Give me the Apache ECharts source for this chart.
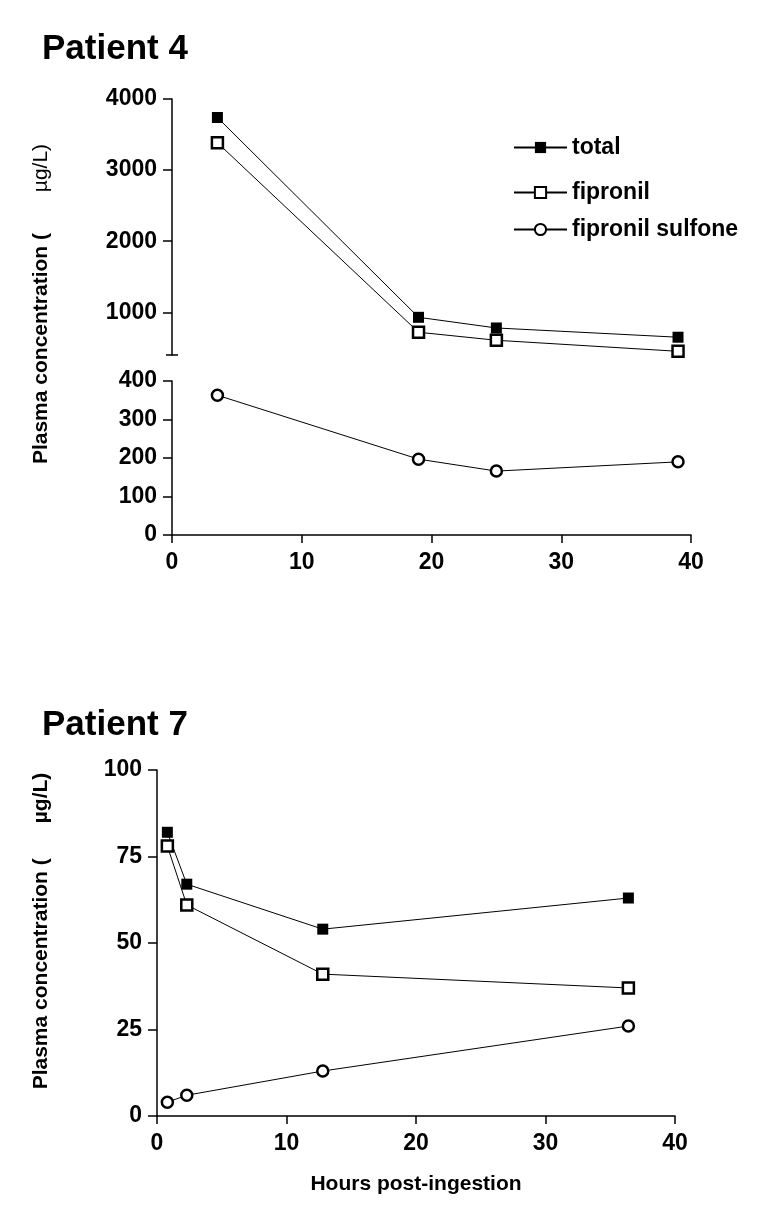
<!DOCTYPE html>
<html><head><meta charset="utf-8">
<script src="https://cdn.jsdelivr.net/npm/echarts@6/dist/echarts.min.js"></script>
<style>html,body{margin:0;padding:0;background:#fff}#c{width:777px;height:1212px}</style>
</head><body><div id="c"></div>
<script>
// ---- data ----
const seriesNames = ['total', 'fipronil', 'fipronil sulfone'];
const p4Hours = [3.5, 19, 25, 39];
const p4Total = [3740, 930, 780, 650];
const p4Fipronil = [3385, 720, 607, 452];
const p4Sulfone = [363, 197, 166, 190];
const p4UpperTicks = [1000, 2000, 3000, 4000];
const p4BreakValue = [400];
const p7Hours = [0.8, 2.3, 12.8, 36.4];
const p7Total = [82, 67, 54, 63];
const p7Fipronil = [78, 61, 41, 37];
const p7Sulfone = [4, 6, 13, 26];
const xTitle = 'Hours post-ingestion';
const titles = ['Patient 4', 'Patient 7'];

const FF = 'Liberation Sans';
const black = '#000';
const pairs = (xs, ys) => xs.map((x, i) => [x, ys[i]]);
const plain = v => String(v);
const lab = { fontFamily: FF, fontWeight: 'bold', fontSize: 23, color: black };
const AW = 1.5;
const line = { show: true, lineStyle: { color: black, width: AW } };

function mkSeries(name, data, xi, yi) {
  const base = {
    name, type: 'line', data, xAxisIndex: xi, yAxisIndex: yi,
    symbolSize: 11, showAllSymbol: true, clip: false,
    lineStyle: { color: black, width: 1 }, emphasis: { disabled: true }, z: 3
  };
  if (name === 'total') {
    base.symbol = 'rect';
    base.itemStyle = { color: black, borderColor: black, borderWidth: 0 };
  } else if (name === 'fipronil') {
    base.symbol = 'rect';
    base.itemStyle = { color: '#fff', borderColor: black, borderWidth: 2.5 };
  } else {
    base.symbol = 'circle';
    base.itemStyle = { color: '#fff', borderColor: black, borderWidth: 2.5 };
  }
  return base;
}

const chart = echarts.init(document.getElementById('c'), null, { renderer: 'canvas' });
chart.setOption({
  animation: false,
  backgroundColor: '#fff',
  title: [
    { text: titles[0], left: 42, top: 32, padding: 0, textStyle: { fontFamily: FF, fontWeight: 'bold', fontSize: 35, color: black } },
    { text: titles[1], left: 42, top: 708, padding: 0, textStyle: { fontFamily: FF, fontWeight: 'bold', fontSize: 35, color: black } }
  ],
  legend: [
    { data: [seriesNames[0], seriesNames[1]], orient: 'vertical', left: 513, top: 136, padding: 0,
      itemWidth: 53, itemHeight: 14, itemGap: 22, selectedMode: false, textStyle: lab },
    { data: [seriesNames[2]], orient: 'vertical', left: 513, top: 218, padding: 0,
      itemWidth: 53, itemHeight: 14, selectedMode: false, textStyle: lab }
  ],
  grid: [
    { left: 172, top: 99, width: 519, height: 256 },
    { left: 172, top: 381, width: 519, height: 154 },
    { left: 157, top: 770, width: 518, height: 346 }
  ],
  xAxis: [
    { gridIndex: 0, type: 'value', min: 0, max: 40, show: false },
    { gridIndex: 1, type: 'value', min: 0, max: 40, interval: 10, axisLine: line,
      axisTick: { show: true, length: 8, lineStyle: { color: black, width: AW } },
      axisLabel: Object.assign({ margin: 16, formatter: plain }, lab), splitLine: { show: false } },
    { gridIndex: 2, type: 'value', min: 0, max: 40, interval: 10, axisLine: line,
      axisTick: { show: true, length: 8, lineStyle: { color: black, width: AW } },
      axisLabel: Object.assign({ margin: 16, formatter: plain }, lab), splitLine: { show: false },
      name: xTitle, nameLocation: 'middle', nameGap: 58,
      nameTextStyle: { fontFamily: FF, fontWeight: 'bold', fontSize: 21, color: black } }
  ],
  yAxis: [
    { gridIndex: 0, type: 'value', position: 'left', min: 400, max: 4000, axisLine: line,
      axisTick: { show: true, length: 9, customValues: p4UpperTicks, lineStyle: { color: black, width: AW } },
      axisLabel: Object.assign({ margin: 15, customValues: p4UpperTicks, formatter: plain }, lab), splitLine: { show: false } },
    { gridIndex: 0, type: 'value', position: 'left', min: 400, max: 4000, axisLine: { show: false },
      axisTick: { show: true, length: 6, customValues: p4BreakValue, lineStyle: { color: black, width: AW } },
      axisLabel: { show: false }, splitLine: { show: false } },
    { gridIndex: 0, type: 'value', position: 'left', min: 400, max: 4000, axisLine: { show: false },
      axisTick: { show: true, inside: true, length: 6, customValues: p4BreakValue, lineStyle: { color: black, width: AW } },
      axisLabel: { show: false }, splitLine: { show: false } },
    { gridIndex: 1, type: 'value', position: 'left', min: 0, max: 400, interval: 100, axisLine: line,
      axisTick: { show: true, length: 9, lineStyle: { color: black, width: AW } },
      axisLabel: Object.assign({ margin: 15, formatter: plain }, lab), splitLine: { show: false } },
    { gridIndex: 2, type: 'value', position: 'left', min: 0, max: 100, interval: 25, axisLine: line,
      axisTick: { show: true, length: 9, lineStyle: { color: black, width: AW } },
      axisLabel: Object.assign({ margin: 15, formatter: plain }, lab), splitLine: { show: false } }
  ],
  series: [
    mkSeries(seriesNames[0], pairs(p4Hours, p4Total), 0, 0),
    mkSeries(seriesNames[1], pairs(p4Hours, p4Fipronil), 0, 0),
    mkSeries(seriesNames[2], pairs(p4Hours, p4Sulfone), 1, 3),
    mkSeries(seriesNames[0], pairs(p7Hours, p7Total), 2, 4),
    mkSeries(seriesNames[1], pairs(p7Hours, p7Fipronil), 2, 4),
    mkSeries(seriesNames[2], pairs(p7Hours, p7Sulfone), 2, 4)
  ],
  graphic: [
    { type: 'text', x: 41, y: 304, rotation: Math.PI / 2, silent: true,
      style: { text: '{a|Plasma concentration (}{b|       \u00b5g/L)}', align: 'center', verticalAlign: 'middle',
        rich: { a: { fontFamily: FF, fontWeight: 'bold', fontSize: 21, fill: black, color: black },
                b: { fontFamily: FF, fontWeight: 'normal', fontSize: 21, fill: black, color: black } } } },
    { type: 'text', x: 41, y: 931, rotation: Math.PI / 2, silent: true,
      style: { text: 'Plasma concentration (      \u00b5g/L)', align: 'center', verticalAlign: 'middle',
        fontFamily: FF, fontWeight: 'bold', fontSize: 21, fill: black } }
  ]
});
</script>
</body></html>
